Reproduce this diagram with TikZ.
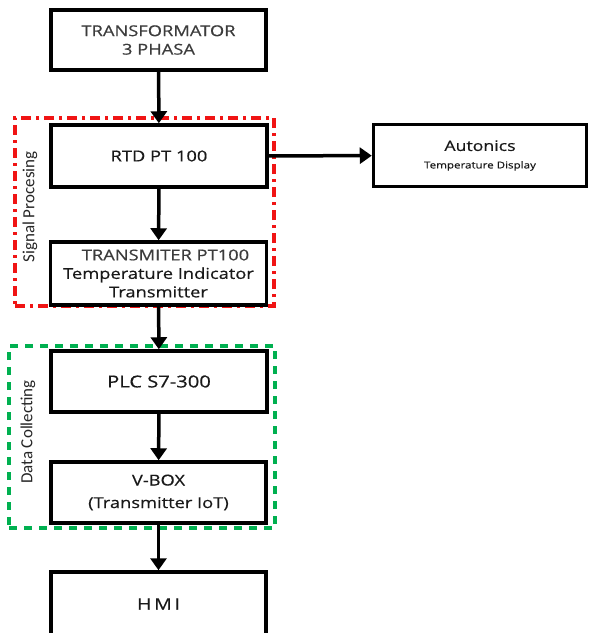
\documentclass[tikz,border=0pt]{standalone}
\usepackage{fontspec}
\setmainfont{Open Sans}[FakeStretch=1.22,FakeBold=0.5]
\newfontfamily\labelfont{Carlito}
\usetikzlibrary{arrows.meta}

\definecolor{dashred}{RGB}{240,20,20}
\definecolor{dashgreen}{RGB}{0,176,80}
\definecolor{txtgray}{RGB}{60,60,60}

\begin{document}
\begin{tikzpicture}[x=1pt,y=-1pt]
        \tikzstyle{every node}=[font=\fontsize{15}{18.5}\selectfont, text=black!90]
        \tikzstyle{block}=[draw, line width=3.5pt, align=center, inner sep=0pt]
        \tikzstyle{flow}=[line width=3.5pt, -{Triangle[length=12pt,width=16pt]}]
        \tikzstyle{sigframe}=[draw=dashred, line width=3.5pt, dash pattern=on 10pt off 5pt on 3pt off 5pt]
        \tikzstyle{datframe}=[draw=dashgreen, line width=3.5pt, dash pattern=on 8pt off 7pt]
        \tikzstyle{framelabel}=[rotate=90, font=\labelfont\fontsize{17}{19}\selectfont, text=black!85]

        \clip (0,0) rectangle (589,633);
        \useasboundingbox (0,0) rectangle (589,633);

        % group frames
        \node (sigbox) [sigframe, minimum width=259pt, minimum height=188pt] at (144.5,212) {};
        \node (datbox) [datframe, minimum width=266pt, minimum height=182pt] at (142,437) {};
        \node (siglabel) [framelabel] at (30,207) {Signal Procesing};
        \node (datlabel) [framelabel] at (28,432) {Data Collecting};

        % blocks
        \node (trafo) [block, minimum width=215pt, minimum height=60pt, text=txtgray] at (158.5,40) {TRANSFORMATOR\\3 PHASA};
        \node (rtd) [block, minimum width=216pt, minimum height=62pt] at (159,156) {RTD PT 100};
        \node (trans) [block, minimum width=216pt, minimum height=63pt] at (158.5,273.5)
            {\hspace*{14pt}{\color{txtgray}TRANSMITER PT100}\\Temperature Indicator\\Transmitter};
        \node (autonics) [block, minimum width=213pt, minimum height=62pt] at (480,155.5)
            {{\fontsize{14.5}{17}\selectfont Autonics}\\[-1pt]{\fontsize{9.5}{12}\selectfont Temperature Display}};
        \node (plc) [block, minimum width=216pt, minimum height=61pt, font=\fontsize{16.5}{19}\selectfont] at (159,381.5) {PLC S7-300};
        \node (vbox) [block, minimum width=215pt, minimum height=61pt] at (158.5,492.5) {V-BOX\\[4pt](Transmitter IoT)};
        \node (hmi) [block, minimum width=215pt, minimum height=64pt, font=\fontsize{16}{19}\selectfont] at (158.5,604) {H\,M\,I};

        % connections
        \draw[flow] (trafo) -- (rtd);
        \draw[flow] (rtd) -- (trans);
        \draw[flow] (rtd) -- (autonics);
        \draw[flow] (trans) -- (plc);
        \draw[flow] (plc) -- (vbox);
        \draw[flow] (vbox) -- (hmi);
\end{tikzpicture}
\end{document}
